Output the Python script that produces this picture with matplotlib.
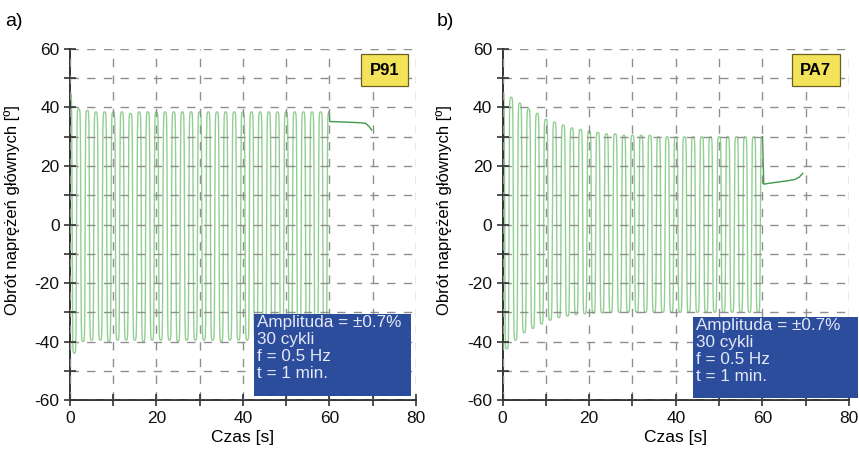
import numpy as np
import matplotlib
matplotlib.use("Agg")
import matplotlib.pyplot as plt

plt.rcParams['font.family'] = ['Liberation Sans', 'DejaVu Sans']

# ---- data ----
# peak values (at t = 0, 2, 4, ..., 60 s) and trough values (at t = 1, 3, ..., 59 s)
peaks_a = [45, 39.5, 39, 38.5, 38.5, 38.5, 38.5, 38, 38.5, 38.5, 38.5, 38.5, 38.5, 38.5, 38.5, 38.5,
           38.5, 38.5, 38.5, 38.5, 38.5, 38.5, 38.5, 38.5, 38.5, 38.5, 38.5, 38.5, 38.5, 38.5, 38.5]
troughs_a = [-44, -40, -39.5, -39.5, -40, -39.5, -39.5, -39.5, -40, -39.5, -39.5, -39.5, -40, -39.5, -39.5,
             -39.5, -39.5, -40, -39.5, -39.5, -39.5, -39.5, -39.5, -39.5, -39.5, -39.5, -39.5, -39.5, -39.5, -39.5]
tail_t_a = [60.1, 64, 67, 68.4, 69.2, 69.8]
tail_v_a = [35.2, 35.0, 34.8, 34.6, 33.5, 32.3]

peaks_b = [45.5, 43.5, 41.5, 39.5, 38, 36, 35, 34, 33, 32.5, 32, 31.5, 31, 31, 30.5, 30.5,
           30.5, 30.5, 30, 30, 30, 30, 30, 30, 30, 30, 30, 30, 30, 30, 30]
troughs_b = [-42.5, -39.5, -37, -35.5, -34, -32.7, -31.8, -31.3, -30.8, -30.5, -30.3, -30.2, -30, -30, -30,
             -30, -30, -30, -30, -30, -30, -30, -30, -30, -30, -30, -30, -30, -30, -30]
tail_t_b = [60.3, 62, 64, 66, 67.5, 68.5, 69.3]
tail_v_b = [13.8, 14.2, 14.6, 15.0, 15.4, 16.2, 17.5]

x_ticks = [0, 10, 20, 30, 40, 50, 60, 70, 80]
x_labels = ['0', '', '20', '', '40', '', '60', '', '80']
y_ticks = [-60, -50, -40, -30, -20, -10, 0, 10, 20, 30, 40, 50, 60]
y_labels = ['-60', '', '-40', '', '-20', '', '0', '', '20', '', '40', '', '60']

info_lines = ["Amplituda = \u00b10.7%", "30 cykli", "f = 0.5 Hz", "t = 1 min."]
materials = ["P91", "PA7"]
panel_tags = ["a)", "b)"]


def waveform(peaks, troughs):
    t = np.linspace(0, 60, 12001)
    k = 3.5
    s = np.tanh(k * np.cos(np.pi * t)) / np.tanh(k)
    pi_idx = np.clip(np.round(t / 2).astype(int), 0, len(peaks) - 1)
    ti_idx = np.clip(np.floor(t / 2).astype(int), 0, len(troughs) - 1)
    p = np.asarray(peaks)[pi_idx]
    tr = np.asarray(troughs)[ti_idx]
    v = np.where(s >= 0, s * p, -s * tr)
    return t, v


fig = plt.figure(figsize=(8.59, 4.62), dpi=100)
ax_a = fig.add_axes([0.0815, 0.134, 0.4025, 0.760])
ax_b = fig.add_axes([0.585, 0.134, 0.4035, 0.760])

sets = [
    (ax_a, peaks_a, troughs_a, tail_t_a, tail_v_a, (42.5, -58.5, 36.5, 28.0), (72.8, 52.8)),
    (ax_b, peaks_b, troughs_b, tail_t_b, tail_v_b, (44, -59.3, 38, 27.8), (72.3, 52.8)),
]

for i, (ax, pk, tr, tt, tv, box, lab) in enumerate(sets):
    t, v = waveform(pk, tr)
    ax.plot(t, v, color='#93cf93', lw=1.0, zorder=2)
    ax.plot([t[-1]] + tt, [v[-1]] + tv, color='#3f9a4a', lw=1.0, zorder=2)

    ax.set_xlim(0, 80)
    ax.set_ylim(-60, 60)
    ax.set_xticks(x_ticks)
    ax.set_xticklabels(x_labels)
    ax.set_yticks(y_ticks)
    ax.set_yticklabels(y_labels)
    ax.tick_params(direction='inout', length=9, width=1.2, colors='#333333',
                   labelsize=12.5, labelcolor='#111111', pad=3)
    for side in ['top', 'right']:
        ax.spines[side].set_visible(False)
    for side in ['left', 'bottom']:
        ax.spines[side].set_color('#333333')
        ax.spines[side].set_linewidth(1.4)
    ax.set_axisbelow(False)
    ax.grid(True, color='#8f8f8f', linestyle=(0, (6, 6)), linewidth=1.0, zorder=3)

    ax.set_xlabel("Czas [s]", fontsize=12.5, labelpad=3)
    ax.set_ylabel("Obr\u00f3t napr\u0119\u017ce\u0144 g\u0142\u00f3wnych [\u00ba]", fontsize=12)
    ax.yaxis.set_label_coords(-0.145, 0.54)

    bx, by, bw, bh = box
    rect = plt.Rectangle((bx, by), bw, bh, facecolor='#2c4c9c', edgecolor='none',
                         zorder=5, clip_on=False)
    ax.add_patch(rect)
    ax.text(bx + 0.7, by + bh - 0.5, "\n".join(info_lines), color='#e4e8f6',
            fontsize=12.3, va='top', ha='left',
            linespacing=1.17, zorder=6, clip_on=False)

    ax.text(lab[0], lab[1], materials[i], fontsize=12, fontweight='bold',
            ha='center', va='center', zorder=6,
            bbox=dict(boxstyle='square,pad=0.5', facecolor='#f3e35a', edgecolor='#6b5f20', lw=0.9))

fig.text(0.006, 0.972, panel_tags[0], fontsize=14, va='top', ha='left')
fig.text(0.508, 0.972, panel_tags[1], fontsize=14, va='top', ha='left')

fig.savefig("out.png", dpi=100)
